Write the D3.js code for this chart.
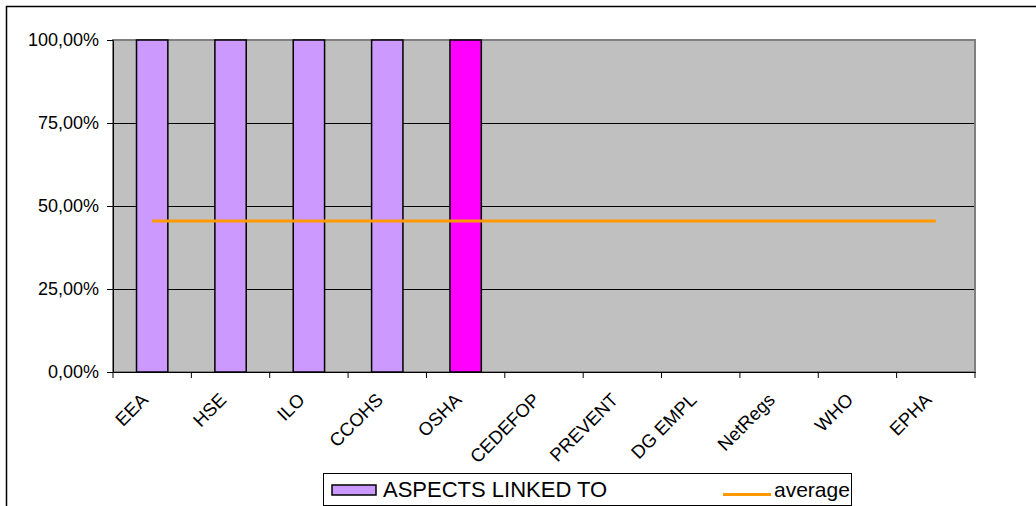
<!DOCTYPE html>
<html><head><meta charset="utf-8">
<script src="https://cdn.jsdelivr.net/npm/d3@7"></script>
<style>body{margin:0;background:#fff}svg{display:block;font-family:"Liberation Sans",Arial,sans-serif}</style>
</head><body>
<svg id="c" width="1036" height="506"></svg>
<script>
const categories = ["EEA","HSE","ILO","CCOHS","OSHA","CEDEFOP","PREVENT","DG EMPL","NetRegs","WHO","EPHA"];
const aspectsLinked = [100,100,100,100,100,0,0,0,0,0,0];
const average = [45.45,45.45,45.45,45.45,45.45,45.45,45.45,45.45,45.45,45.45,45.45];
const yTicks = [0,25,50,75,100];
const barColors = ["#CC99FF","#CC99FF","#CC99FF","#CC99FF","#FF00FF","#CC99FF","#CC99FF","#CC99FF","#CC99FF","#CC99FF","#CC99FF"];

const svg = d3.select("#c");
const L=113,R=975,T=40,B=372;
const x = d3.scaleBand().domain(categories).range([L,R]).paddingInner(0);
const y = d3.scaleLinear().domain([0,100]).range([B,T]);
const fmt = v => d3.format(".2f")(v).replace(".",",")+"%";

// outer border
svg.append("rect").attr("x",6.5).attr("y",6.5).attr("width",1100).attr("height",600)
  .attr("fill","#fff").attr("stroke","#000").attr("stroke-width",1.5);

// plot background
svg.append("rect").attr("x",L).attr("y",T).attr("width",R-L).attr("height",B-T).attr("fill","#C0C0C0");

// gridlines
svg.append("g").selectAll("line").data(yTicks.filter(d=>d>0&&d<100)).join("line")
  .attr("x1",L).attr("x2",R).attr("y1",d=>Math.round(y(d))+0.5).attr("y2",d=>Math.round(y(d))+0.5)
  .attr("stroke","#000").attr("stroke-width",1);

// plot border
svg.append("rect").attr("x",L).attr("y",T).attr("width",R-L).attr("height",B-T)
  .attr("fill","none").attr("stroke","#808080").attr("stroke-width",2);

// bars
const bw = x.bandwidth()*0.4;
svg.append("g").selectAll("rect").data(categories).join("rect")
  .filter((d,i)=>aspectsLinked[i]>0)
  .attr("x",d=>x(d)+x.bandwidth()/2-bw/2)
  .attr("y",d=>y(aspectsLinked[categories.indexOf(d)]))
  .attr("width",bw)
  .attr("height",d=>B-y(aspectsLinked[categories.indexOf(d)]))
  .attr("fill",d=>barColors[categories.indexOf(d)])
  .attr("stroke","#000").attr("stroke-width",1.5);

// average line
const line = d3.line().x((d,i)=>x(categories[i])+x.bandwidth()/2).y(d=>y(d));
svg.append("path").datum(average).attr("d",line).attr("fill","none")
  .attr("stroke","#FF9900").attr("stroke-width",3);

// y axis
const yAxis = d3.axisLeft(y).tickValues(yTicks).tickFormat(fmt).tickSize(6).tickPadding(8);
const gy = svg.append("g").attr("transform",`translate(${L},0)`).call(yAxis);
gy.select(".domain").attr("stroke","#000");
gy.selectAll(".tick line").attr("stroke","#000");
gy.selectAll("text").attr("font-size",18).attr("fill","#000").attr("font-family","Liberation Sans, Arial, sans-serif");

// x axis
const xAxis = d3.axisBottom(x).tickSize(0).tickFormat(d=>d);
const gx = svg.append("g").attr("transform",`translate(0,${B})`).call(xAxis);
gx.select(".domain").attr("stroke","#000");
// boundary ticks
const bounds = categories.map(c=>x(c)).concat([R]);
gx.selectAll(".bt").data(bounds).join("line").attr("class","bt")
  .attr("x1",d=>d).attr("x2",d=>d).attr("y1",0).attr("y2",6).attr("stroke","#000");
gx.selectAll(".tick text")
  .attr("font-size",18.5).attr("fill","#000").attr("font-family","Liberation Sans, Arial, sans-serif")
  .attr("text-anchor","end").attr("dy",0).attr("y",0)
  .attr("transform","translate(-3,29) rotate(-45)");

// legend
const lg = svg.append("g");
lg.append("rect").attr("x",323.5).attr("y",473.5).attr("width",528).attr("height",32)
  .attr("fill","#fff").attr("stroke","#000").attr("stroke-width",1);
lg.append("rect").attr("x",332).attr("y",485).attr("width",44).attr("height",10)
  .attr("fill",barColors[0]).attr("stroke","#000").attr("stroke-width",1.5);
lg.append("text").attr("x",383).attr("y",497).attr("font-size",22).attr("fill","#000").text("ASPECTS LINKED TO");
lg.append("line").attr("x1",723).attr("x2",771).attr("y1",494.5).attr("y2",494.5)
  .attr("stroke","#FF9900").attr("stroke-width",3);
lg.append("text").attr("x",774).attr("y",497).attr("font-size",21).attr("fill","#000").text("average");
</script>
</body></html>
